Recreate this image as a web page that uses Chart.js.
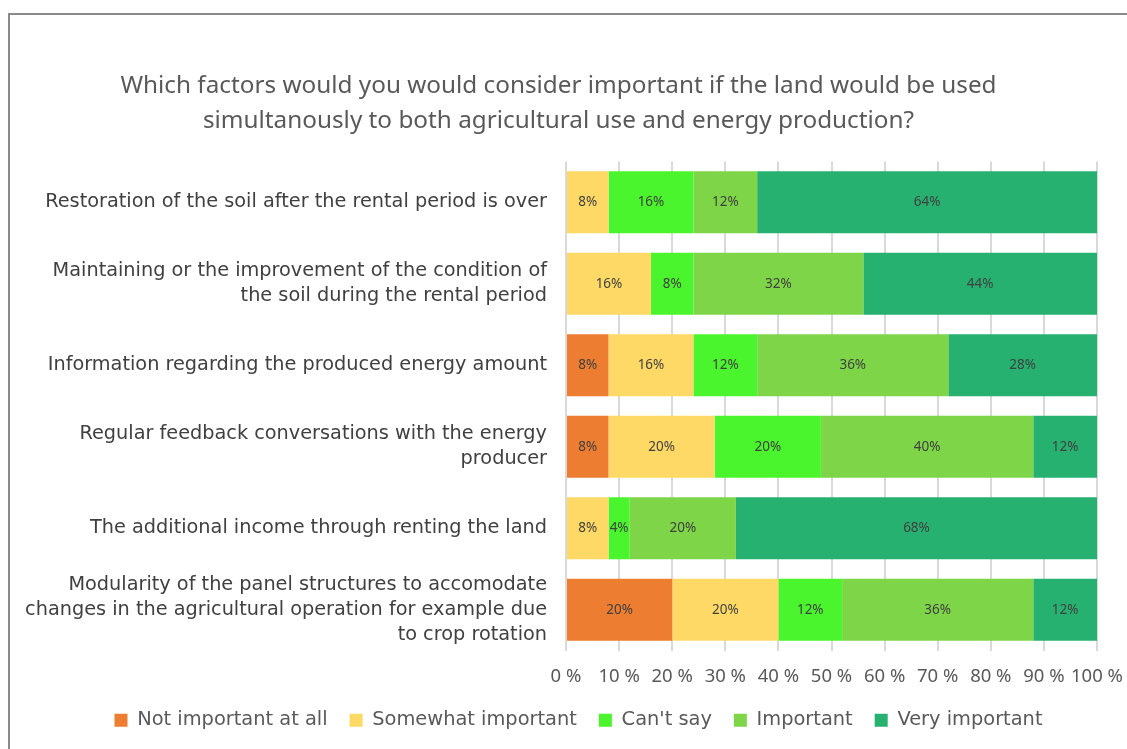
<!DOCTYPE html>
<html lang="en">
  <head>
    <meta charset="UTF-8" />
    <title>Factors for combined agricultural and energy land use</title>
    <style>
      html, body { margin: 0; padding: 0; background: #fff; overflow: hidden; }
      .frame { position: absolute; left: 8px; top: 13px; width: 1300px; height: 900px; border: 2px solid #8a8a8a; }
      .chart { position: absolute; left: 0; top: 0; width: 1127px; height: 749px; }
    </style>
  </head>
  <body>
    <script src="https://cdn.jsdelivr.net/npm/chart.js"></script>
    <div class="frame"></div>
    <div class="chart">
      <canvas id="chart"></canvas>
    </div>

    <script>
      // categories (top to bottom)
      const factors = [
        "Restoration of the soil after the rental period is over",
        ["Maintaining or the improvement of the condition of", "the soil during the rental period"],
        "Information regarding the produced energy amount",
        ["Regular feedback conversations with the energy", "producer"],
        "The additional income through renting the land",
        ["Modularity of the panel structures to accomodate", "changes in the agricultural operation for example due", "to crop rotation"],
      ];

      // answers in %
      const notImportant = [0, 0, 8, 8, 0, 20];
      const somewhat = [8, 16, 16, 20, 8, 20];
      const cantSay = [16, 8, 12, 20, 4, 12];
      const important = [12, 32, 36, 40, 20, 36];
      const veryImportant = [64, 44, 28, 12, 68, 12];

      const xTicks = [0, 10, 20, 30, 40, 50, 60, 70, 80, 90, 100];

      const txt = "#595959";
      const font = "'DejaVu Sans', sans-serif";
      const noto = "'Noto Sans', sans-serif";

      // write the % value in the middle of each segment
      const segmentLabels = {
        id: "segmentLabels",
        afterDatasetsDraw(chart) {
          const ctx = chart.ctx;
          ctx.save();
          ctx.font = "13.5px " + noto;
          ctx.fillStyle = "#404040";
          ctx.textAlign = "center";
          ctx.textBaseline = "middle";
          chart.data.datasets.forEach((ds, i) => {
            const meta = chart.getDatasetMeta(i);
            meta.data.forEach((bar, j) => {
              const v = ds.data[j];
              if (!v) return;
              const p = bar.getCenterPoint();
              ctx.fillText(v + "%", p.x, p.y);
            });
          });
          ctx.restore();
        },
      };

      // nudge the legend a little to the right, like the original
      const legendShift = {
        id: "legendShift",
        afterLayout(chart) {
          if (chart.legend) {
            chart.legend.left += 20;
            chart.legend.right += 20;
          }
        },
      };

      const mk = (label, data, color) => ({
        label,
        data,
        backgroundColor: color,
        borderWidth: 0,
        barPercentage: 0.76,
        categoryPercentage: 1,
      });

      new Chart(document.getElementById("chart"), {
        type: "bar",
        data: {
          labels: factors,
          datasets: [
            mk("Not important at all", notImportant, "#ED7D31"),
            mk("Somewhat important", somewhat, "#FFD966"),
            mk("Can't say", cantSay, "#4BF52D"),
            mk("Important", important, "#7ED548"),
            mk("Very important", veryImportant, "#27B170"),
          ],
        },
        options: {
          indexAxis: "y",
          responsive: true,
          maintainAspectRatio: false,
          animation: false,
          layout: { padding: { left: 20, right: 30, top: 0, bottom: 9 } },
          plugins: {
            title: {
              display: true,
              text: [
                "Which factors would you would consider important if the land would be used",
                "simultanously to both agricultural use and energy production?",
              ],
              color: txt,
              font: { family: noto, size: 24.3, weight: "normal", lineHeight: 1.45 },
              padding: { top: 68, bottom: 23 },
            },
            legend: {
              position: "bottom",
              maxHeight: 61,
              labels: {
                color: txt,
                font: { family: font, size: 19.4 },
                boxWidth: 13,
                boxHeight: 13,
                padding: 22,
              },
            },
            tooltip: { enabled: false },
          },
          scales: {
            x: {
              stacked: true,
              min: 0,
              max: 100,
              afterBuildTicks: (s) => { s.ticks = xTicks.map((v) => ({ value: v })); },
              afterFit: (s) => { s.paddingLeft = 0; s.paddingRight = 0; s.height = 38; },
              border: { display: false },
              grid: { color: "#d9d9d9", lineWidth: 2, drawTicks: false },
              ticks: {
                color: txt,
                font: { family: noto, size: 18.5 },
                padding: 15,
                autoSkip: false,
                maxRotation: 0,
                minRotation: 0,
                callback: (v) => v + " %",
              },
            },
            y: {
              stacked: true,
              border: { display: false },
              grid: { display: false, drawTicks: false },
              afterFit: (s) => { s.width = 546; },
              ticks: {
                color: "#404040",
                font: { family: font, size: 19.3, lineHeight: 1.28 },
                padding: 19,
                autoSkip: false,
              },
            },
          },
        },
        plugins: [segmentLabels, legendShift],
      });
    </script>
  </body>
</html>
